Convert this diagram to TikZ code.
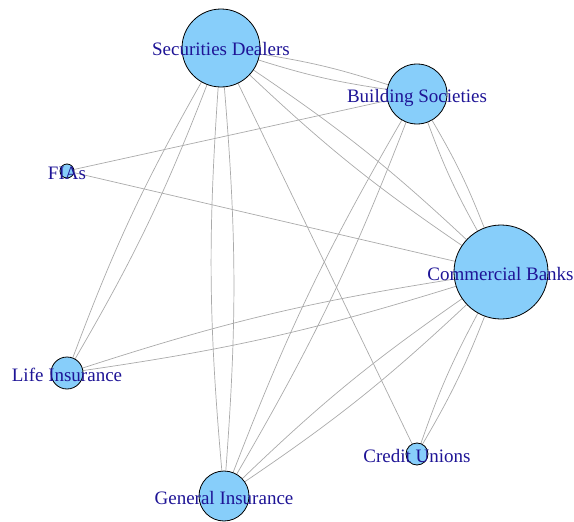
\documentclass[tikz,border=0pt]{standalone}
\usepackage{fontspec}
\setmainfont{Liberation Serif}
\usetikzlibrary{backgrounds}
\definecolor{nodeblue}{RGB}{135,206,250}
\definecolor{labelblue}{RGB}{30,20,150}
\definecolor{edgegray}{RGB}{170,170,170}
\tikzset{
  vertex/.style={circle, draw=black, line width=0.8pt, fill=nodeblue,
                 inner sep=0pt, minimum size=#1},
  lbl/.style={text=labelblue, anchor=base, inner sep=0pt, yshift=-8pt,
              font=\fontsize{19}{20}\selectfont},
  link/.style={draw=edgegray, line width=0.7pt},
  pairA/.style={link, bend left=4.5},
  pairB/.style={link, bend right=4.5},
}
\begin{document}
\begin{tikzpicture}[x=1pt, y=-1pt]
  \useasboundingbox (0,0) rectangle (574,522);

  % vertices (centres and diameters)
  \node[vertex=78] (sd) at (221,48)  {};
  \node[vertex=60] (bs) at (417,94)  {};
  \node[vertex=14] (fi) at (67,171)  {};
  \node[vertex=94] (cb) at (501,272) {};
  \node[vertex=32] (li) at (67,373)  {};
  \node[vertex=50] (gi) at (224,496) {};
  \node[vertex=22] (cu) at (417,454) {};

  % edges, drawn beneath the vertices
  \begin{scope}[on background layer]
    \draw[pairA] (sd) to (bs);  \draw[pairB] (sd) to (bs);
    \draw[pairA] (sd) to (cb);  \draw[pairB] (sd) to (cb);
    \draw[pairA] (sd) to (li);  \draw[pairB] (sd) to (li);
    \draw[pairA] (sd) to (gi);  \draw[pairB] (sd) to (gi);
    \draw[link]  (sd) -- (cu);
    \draw[link]  (fi) -- (bs);
    \draw[link]  (fi) -- (cb);
    \draw[pairA] (bs) to (cb);  \draw[pairB] (bs) to (cb);
    \draw[pairA] (bs) to (gi);  \draw[pairB] (bs) to (gi);
    \draw[pairA] (cb) to (li);  \draw[pairB] (cb) to (li);
    \draw[pairA] (cb) to (gi);  \draw[pairB] (cb) to (gi);
    \draw[pairA] (cb) to (cu);  \draw[pairB] (cb) to (cu);
  \end{scope}

  % labels, centred on the vertices
  \node[lbl] (sd-l) at (sd.center) {Securities Dealers};
  \node[lbl] (bs-l) at (bs.center) {Building Societies};
  \node[lbl] (fi-l) at (fi.center) {FIAs};
  \node[lbl, xshift=-0.5pt] (cb-l) at (cb.center) {Commercial Banks};
  \node[lbl] (li-l) at (li.center) {Life Insurance};
  \node[lbl] (gi-l) at (gi.center) {General Insurance};
  \node[lbl] (cu-l) at (cu.center) {Credit Unions};
\end{tikzpicture}
\end{document}
